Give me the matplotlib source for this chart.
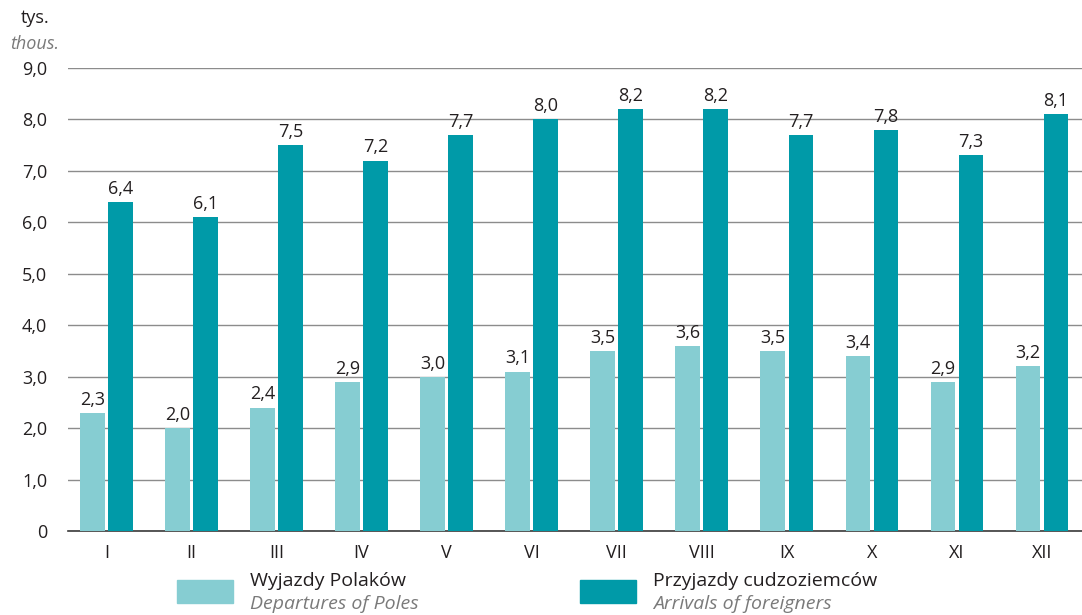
import matplotlib.pyplot as plt
import matplotlib.patches as mpatches
import numpy as np

months = ['I', 'II', 'III', 'IV', 'V', 'VI', 'VII', 'VIII', 'IX', 'X', 'XI', 'XII']
departures = [2.3, 2.0, 2.4, 2.9, 3.0, 3.1, 3.5, 3.6, 3.5, 3.4, 2.9, 3.2]
arrivals = [6.4, 6.1, 7.5, 7.2, 7.7, 8.0, 8.2, 8.2, 7.7, 7.8, 7.3, 8.1]
y_ticks = [0, 1, 2, 3, 4, 5, 6, 7, 8, 9]

light = '#86cdd2'
dark = '#009aa8'
text_col = '#231f20'
grey_text = '#7a7a7a'

plt.rcParams['font.family'] = ['Open Sans', 'DejaVu Sans']

fig = plt.figure(figsize=(10.82, 6.15), dpi=100)
ax = fig.add_axes([68 / 1082, 84 / 615, 1 - 68 / 1082, (531 - 68) / 615])

x = np.arange(len(months))
w = 0.29
gap = 0.02
ax.bar(x - w / 2 - gap, departures, width=w, color=light, zorder=3)
ax.bar(x + w / 2 + gap, arrivals, width=w, color=dark, zorder=3)

fmt = lambda v: f"{v:.1f}".replace('.', ',')
for i, (d, a) in enumerate(zip(departures, arrivals)):
    ax.text(i - w / 2 - gap, d + 0.08, fmt(d), ha='center', va='bottom',
            fontsize=13, color=text_col, zorder=4)
    ax.text(i + w / 2 + gap, a + 0.08, fmt(a), ha='center', va='bottom',
            fontsize=13, color=text_col, zorder=4)

ax.set_xlim(-0.45, 11.47)
ax.set_ylim(0, 9)
ax.set_yticks(y_ticks)
ax.set_yticklabels(['0'] + [fmt(v) for v in y_ticks[1:]])
ax.set_xticks(x)
ax.set_xticklabels(months)
ax.tick_params(axis='both', length=0, labelsize=13, colors=text_col)
ax.tick_params(axis='x', pad=9)
ax.tick_params(axis='y', pad=15)
for lbl in ax.get_yticklabels():
    lbl.set_horizontalalignment('right')

ax.grid(axis='y', color='#8c8c8c', linewidth=1.0, zorder=0)
ax.set_axisbelow(True)
for s in ['top', 'right', 'left']:
    ax.spines[s].set_visible(False)
ax.spines['bottom'].set_color('#3a3a3a')
ax.spines['bottom'].set_linewidth(1.2)

# unit label
fig.text(35 / 1082, 1 - 18 / 615, 'tys.', ha='center', va='center', fontsize=13, color=text_col)
fig.text(35 / 1082, 1 - 44 / 615, 'thous.', ha='center', va='center', fontsize=13,
         color=grey_text, style='italic')

# legend
for px, c, pl, en in [(177, light, 'Wyjazdy Polaków', 'Departures of Poles'),
                      (580, dark, 'Przyjazdy cudzoziemców', 'Arrivals of foreigners')]:
    fig.patches.append(mpatches.Rectangle((px / 1082, 1 - 603 / 615), 56 / 1082, 23 / 615,
                                          transform=fig.transFigure, color=c))
    fig.text((px + 73) / 1082, 1 - 581 / 615, pl, ha='left', va='center',
             fontsize=14, color=text_col)
    fig.text((px + 73) / 1082, 1 - 604 / 615, en, ha='left', va='center',
             fontsize=14, color=grey_text, style='italic')

fig.savefig('out.png', dpi=100)
